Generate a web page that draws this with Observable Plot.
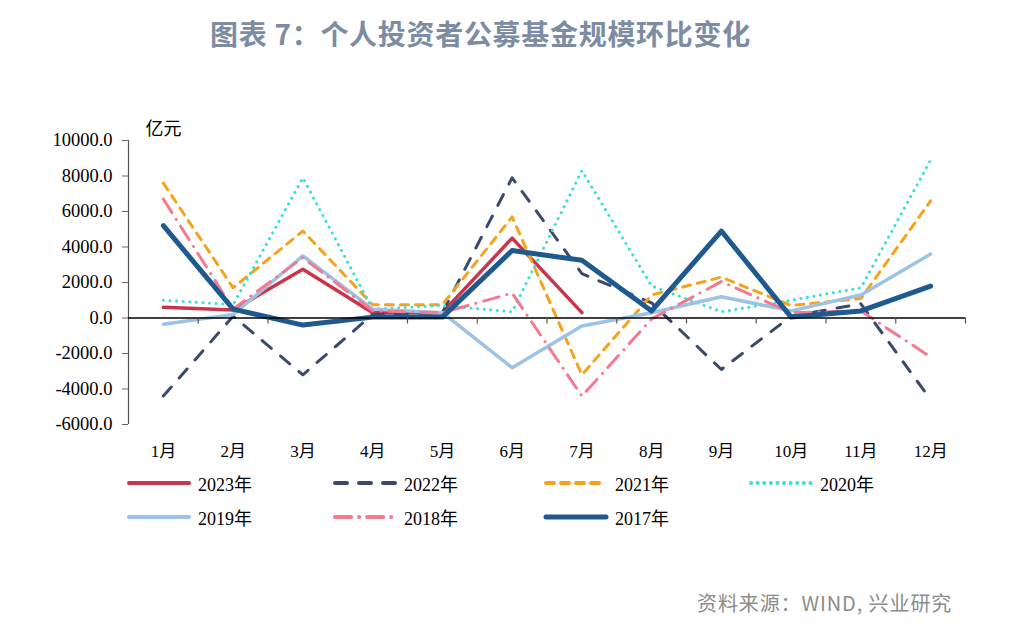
<!DOCTYPE html>
<html><head><meta charset="utf-8">
<script src="https://cdn.jsdelivr.net/npm/d3@7"></script>
<script src="https://cdn.jsdelivr.net/npm/@observablehq/plot@0.6"></script>
<style>
body{margin:0;background:#fff;width:1010px;height:632px;position:relative;overflow:hidden;}
#title{position:absolute;left:210px;top:14px;white-space:nowrap;font:bold 28px "Noto Sans CJK SC";letter-spacing:0.7px;color:#7D8CA3;line-height:38px;}
#chart{position:absolute;left:0;top:70px;}
.item{position:absolute;display:flex;align-items:center;font:18px "Liberation Serif","Noto Sans CJK SC";color:#000;white-space:nowrap;}
.item svg{margin-right:6px;}
#source{position:absolute;left:697px;top:588px;font:20px "Noto Sans CJK SC";letter-spacing:0.9px;color:#8c8c8c;white-space:nowrap;}
</style></head>
<body>
<div id="title">图表 7：个人投资者公募基金规模环比变化</div>
<div id="chart"></div>
<div id="legend"></div>
<div id="source">资料来源：WIND, 兴业研究</div>
<script>
const monthLabels = ["1月","2月","3月","4月","5月","6月","7月","8月","9月","10月","11月","12月"];
const yTicks = [-6000,-4000,-2000,0,2000,4000,6000,8000,10000];
const seriesNames = ["2023年","2022年","2021年","2020年","2019年","2018年","2017年"];
const v2023 = [600, 450, 2750, 300, 300, 4500, 300];
const v2022 = [-4400, 100, -3200, 200, 300, 7900, 2500, 850, -2900, 100, 800, -4600];
const v2021 = [7600, 1700, 4900, 750, 750, 5700, -3200, 1300, 2300, 700, 1100, 6600];
const v2020 = [1000, 750, 7900, 500, 700, 350, 8300, 1800, 350, 1000, 1700, 8900];
const v2019 = [-350, 200, 3500, 500, 300, -2800, -450, 300, 1200, 400, 1300, 3600];
const v2018 = [6700, 500, 3400, 400, 300, 1400, -4400, -50, 2050, 300, 400, -2200];
const v2017 = [5200, 500, -400, 50, 50, 3800, 3250, 400, 4900, 50, 400, 1800];

const styles = [
  {values: v2023, stroke: "#C8364B", strokeWidth: 3.5, dash: null, cap: "round"},
  {values: v2022, stroke: "#3B4A6C", strokeWidth: 3, dash: "12 12", cap: "round"},
  {values: v2021, stroke: "#F5A31C", strokeWidth: 3, dash: "8 7", cap: "round"},
  {values: v2020, stroke: "#3EDFD7", strokeWidth: 3, dash: "0.1 6.5", cap: "round"},
  {values: v2019, stroke: "#9CC3E5", strokeWidth: 3.5, dash: null, cap: "round"},
  {values: v2018, stroke: "#F47A92", strokeWidth: 3, dash: "16 8 0.1 8", cap: "round"},
  {values: v2017, stroke: "#1E5A8F", strokeWidth: 5, dash: null, cap: "round"}
];

const serif = '"Liberation Serif","Noto Sans CJK SC",serif';

const lineMarks = styles.map(s => Plot.line(
  s.values.map((v, i) => ({month: i + 1, value: v})),
  {x: "month", y: "value", stroke: s.stroke, strokeWidth: s.strokeWidth,
   strokeDasharray: s.dash, strokeLinecap: s.cap, strokeLinejoin: "round"}
));

const chart = Plot.plot({
  width: 1010,
  height: 400,
  marginTop: 70,
  marginBottom: 46,
  marginLeft: 128,
  marginRight: 45,
  style: {fontFamily: serif, background: "transparent"},
  x: {type: "linear", domain: [0.5, 12.5]},
  y: {domain: [-6000, 10000]},
  marks: [
    Plot.ruleX([0.5], {stroke: "#555", strokeWidth: 1.2}),
    Plot.axisY({ticks: yTicks, tickFormat: d => d.toFixed(1), tickSize: 6, tickPadding: 10,
      fontSize: 18.5, fontFamily: serif, stroke: "#666", color: "#000", label: null}),
    Plot.axisX({ticks: d3.range(1, 13), tickFormat: d => monthLabels[d - 1], tickSize: 0,
      tickPadding: 20, fontSize: 17, fontFamily: serif, label: null}),
    ...lineMarks,
    Plot.ruleY([0], {stroke: "#000", strokeWidth: 1.3}),
    Plot.ruleX(d3.range(1, 13).map(m => m + 0.5), {y1: 0, y2: 0, insetBottom: -6, stroke: "#555", strokeWidth: 1.2}),
    Plot.text(["亿元"], {frameAnchor: "top-left", dx: 17, dy: -18, fontSize: 18, fontFamily: serif, lineAnchor: "top", textAnchor: "start", letterSpacing: 2})
  ]
});
document.getElementById("chart").appendChild(chart);

// legend
const legend = document.getElementById("legend");
const colX = [126, 332, 543, 748];
const rowY = [483, 517];
styles.forEach((s, i) => {
  const div = document.createElement("div");
  div.className = "item";
  div.style.left = colX[i % 4] + "px";
  div.style.top = (rowY[Math.floor(i / 4)] - 12) + "px";
  div.style.height = "24px";
  const ns = "http://www.w3.org/2000/svg";
  const svg = document.createElementNS(ns, "svg");
  svg.setAttribute("width", 66); svg.setAttribute("height", 10);
  const ln = document.createElementNS(ns, "line");
  ln.setAttribute("x1", 3); ln.setAttribute("x2", 63);
  ln.setAttribute("y1", 5); ln.setAttribute("y2", 5);
  ln.setAttribute("stroke", s.stroke);
  ln.setAttribute("stroke-width", Math.max(s.strokeWidth, 4));
  ln.setAttribute("stroke-linecap", "round");
  if (s.dash) ln.setAttribute("stroke-dasharray", s.dash);
  svg.appendChild(ln);
  div.appendChild(svg);
  const t = document.createElement("span");
  t.textContent = seriesNames[i];
  div.appendChild(t);
  legend.appendChild(div);
});
</script>
</body></html>
